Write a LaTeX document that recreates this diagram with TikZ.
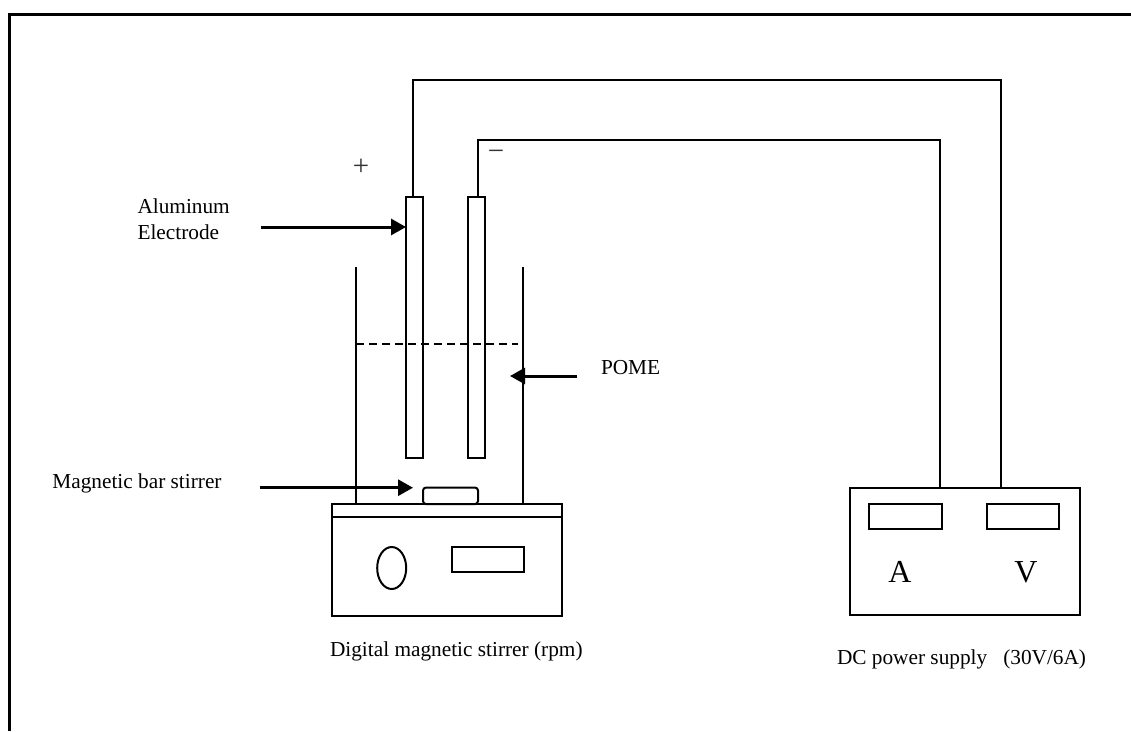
\documentclass[tikz,border=0pt]{standalone}
\usepackage{fontspec}
\setmainfont{Liberation Serif}
\usetikzlibrary{arrows.meta,shapes.geometric}
\tikzset{
  thin line/.style={line width=2pt,black},
  box/.style={draw,thin line,rectangle,inner sep=0pt,outer sep=0pt,fill=none},
  pointer/.style={line width=3pt,-{Triangle[length=15pt,width=16pt]}},
  lab/.style={inner sep=0pt,outer sep=0pt,anchor=base west,font=\fontsize{21.3}{26}\selectfont},
  big/.style={inner sep=0pt,outer sep=0pt,anchor=base,font=\fontsize{32}{36}\selectfont},
  sign/.style={inner sep=0pt,outer sep=0pt,text=black!80,font=\fontsize{29}{30}\selectfont},
}
\begin{document}
\begin{tikzpicture}[x=1pt,y=-1pt]
\useasboundingbox (0,0) rectangle (1131,731);
% outer frame
\draw[line width=3pt] (9,731) -- (9,14) -- (1131,14);
% electrodes
\node[box,minimum width=17pt,minimum height=261pt] (e1) at (414.5,327.5) {};
\node[box,minimum width=17pt,minimum height=261pt] (e2) at (476.5,327.5) {};
% stirrer
\node[box,minimum width=230pt,minimum height=112pt] (stirrer) at (447,560) {};
\coordinate (lidl) at (332,516.7);
\coordinate (lidr) at (562,516.7);
\draw[line width=2.4pt] (lidl) -- (lidr);
\node[draw,thin line,ellipse,inner sep=0pt,minimum width=29pt,minimum height=42pt] (knob) at (391.7,568) {};
\node[box,minimum width=72pt,minimum height=25pt] (display) at (487.5,559.7) {};
\node[box,rounded corners=3pt,minimum width=55pt,minimum height=16.5pt] (bar) at (450.5,495.8) {};
% beaker
\coordinate (bl) at (356,267);
\coordinate (br) at (523,267);
\draw[thin line] (bl) -- (bl |- stirrer.north);
\draw[thin line] (br) -- (br |- stirrer.north);
\coordinate (liqr) at (518,343.5);
\draw[line width=2pt,dash pattern=on 7.5pt off 5.5pt] (bl |- liqr) -- (liqr);
% power supply
\node[box,minimum width=230pt,minimum height=127.5pt] (supply) at (965,551.5) {};
\node[box,minimum width=73pt,minimum height=25.3pt] (ma) at (905.5,516.4) {};
\node[box,minimum width=72pt,minimum height=25.3pt] (mv) at (1022.7,516.4) {};
\node[big] (la) at (900,582.7) {A};
\node[big] (lv) at (1026,582.7) {V};
% wires
\coordinate (p1) at (413,80);
\coordinate (p2) at (1001,80);
\coordinate (n1) at (478,140);
\coordinate (n2) at (939.5,140);
\draw[thin line] (p1 |- e1.north) -- (p1) -- (p2) -- (p2 |- supply.north);
\draw[thin line] (n1 |- e2.north) -- (n1) -- (n2) -- (n2 |- supply.north);
% signs
\node[sign] (plus) at (361,167.5) {+};
\node[sign] (minus) at (496,155) {−};
% pointers
\coordinate (a1) at (261,227);
\draw[pointer] (a1) -- (a1 -| e1.west);
\coordinate (a2) at (260,487.7);
\coordinate (a2e) at (413,487.7);
\draw[pointer] (a2) -- (a2e);
\coordinate (a3) at (577,376);
\coordinate (a3e) at (510,376);
\draw[pointer] (a3) -- (a3e);
% labels
\node[lab,align=left] (alu) at (137.5,239) {Aluminum\\Electrode};
\node[lab] (mag) at (52.4,488) {Magnetic bar stirrer};
\node[lab] (pome) at (601,374) {POME};
\node[lab] (dig) at (330,656) {Digital magnetic stirrer (rpm)};
\node[lab] (dc) at (837,664) {DC power supply\ \ \ (30V/6A)};
\end{tikzpicture}
\end{document}
